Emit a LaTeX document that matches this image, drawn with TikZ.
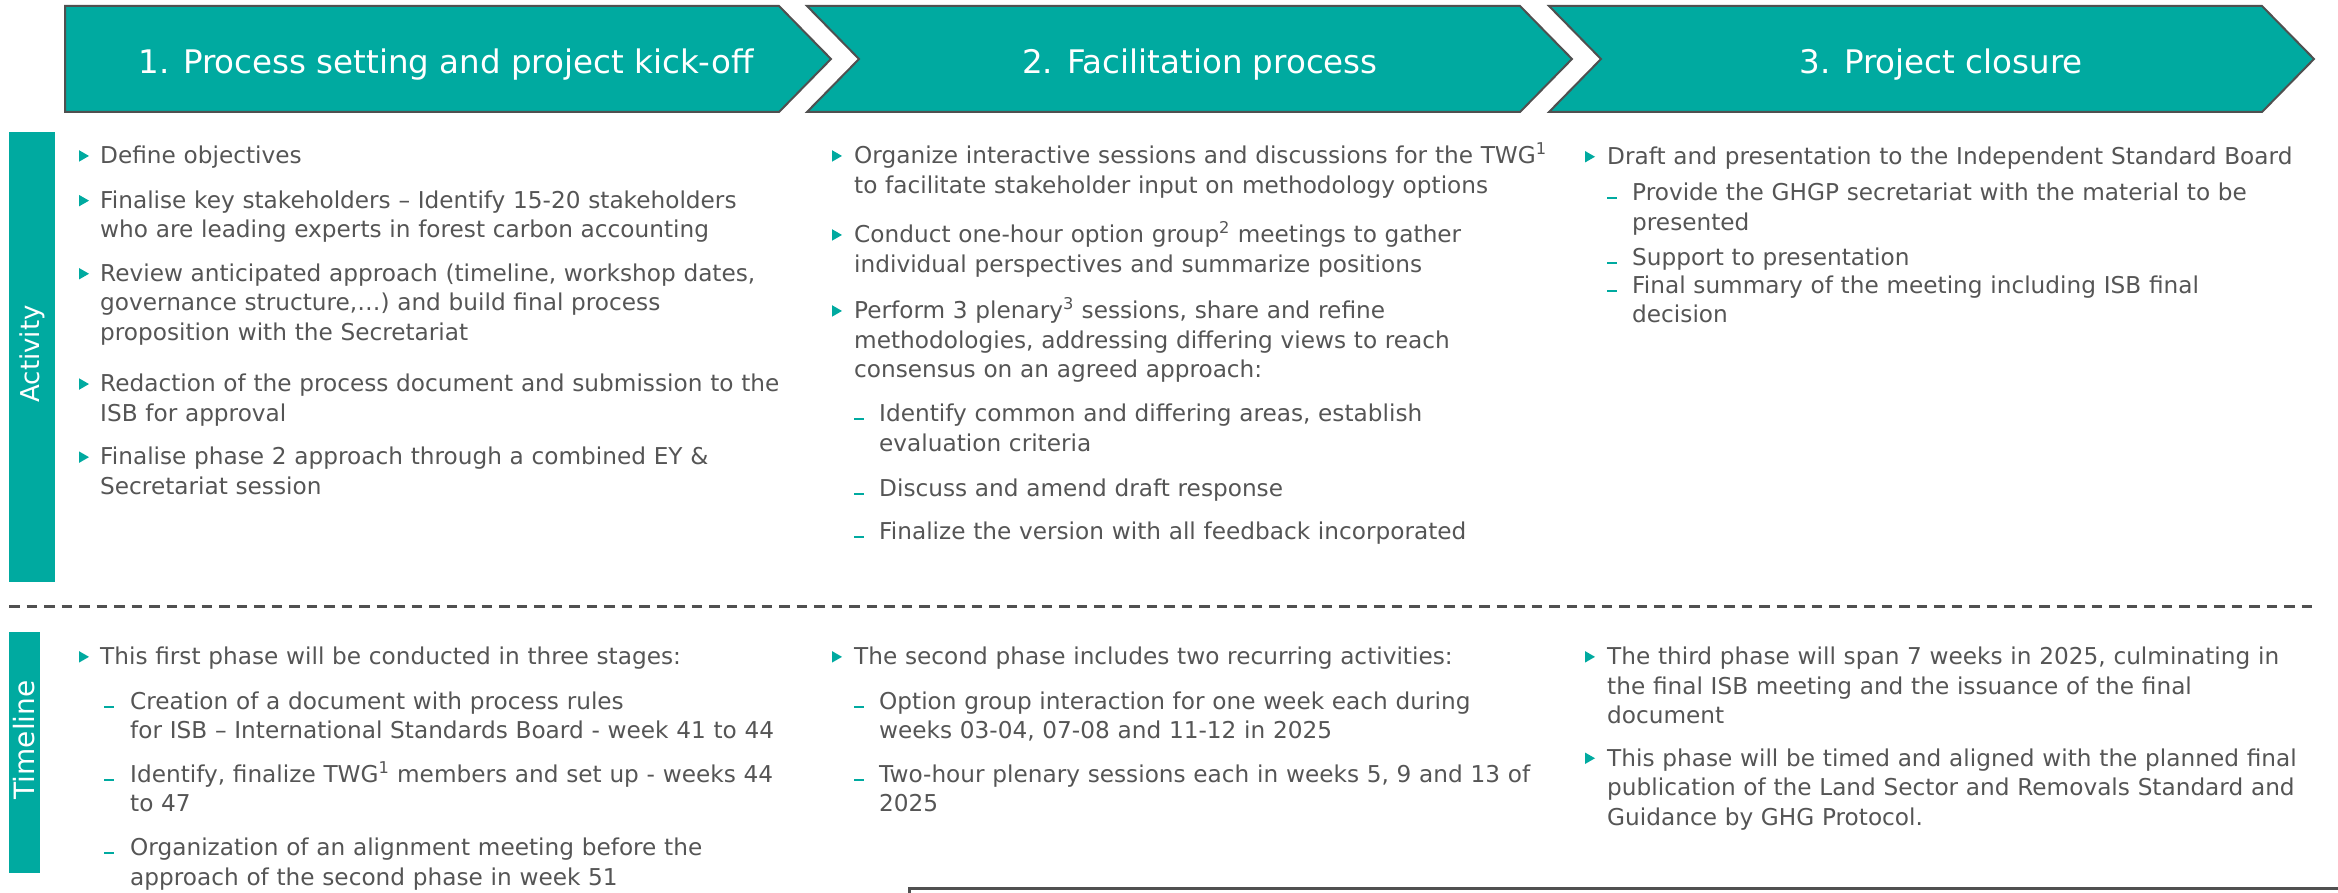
\documentclass[tikz,border=0pt]{standalone}
\usepackage{fontspec}
\setmainfont{DejaVu Sans}
\definecolor{teal1}{RGB}{0,170,160}
\definecolor{txtgray}{RGB}{85,85,85}
\definecolor{edgegray}{RGB}{80,80,80}
\newcommand\bul[2]{\fill[teal1] (#1,#2-13.5) -- (#1+10,#2-7.75) -- (#1,#2-2) -- cycle;}
\newcommand\sdash[2]{\draw[teal1,line width=2pt] (#1,#2-2.5) -- (#1+10,#2-2.5);}
\begin{document}
\begin{tikzpicture}[x=1pt,y=-1pt,
  chev/.style={fill=teal1,draw=edgegray,line width=2pt,line join=miter},
  head/.style={text=white,font=\fontsize{32.5}{39}\selectfont,anchor=base,inner sep=0pt},
  para/.style={text=txtgray,font=\fontsize{#1}{29.5}\selectfont,anchor=base west,inner sep=0pt,text width=900pt,align=left},
  para/.default=23.2,
  lab/.style={text=white,rotate=90,anchor=center,inner sep=0pt},
  dashline/.style={draw=edgegray,line width=2.5pt,dash pattern=on 10.5pt off 7pt},
  boxline/.style={draw=edgegray,line width=3pt}]
\useasboundingbox (0,0) rectangle (2338,893);
\clip (0,0) rectangle (2338,893);
% chevrons
\draw[chev] (65,6) -- (779,6) -- (831,59) -- (779,112) -- (65,112) -- cycle;
\draw[chev] (807,6) -- (1520,6) -- (1572,59) -- (1520,112) -- (807,112) -- (859,59) -- cycle;
\draw[chev] (1549,6) -- (2262,6) -- (2314,59) -- (2262,112) -- (1549,112) -- (1601,59) -- cycle;
\node[head] (h1) at (446,74) {1. Process setting and project kick-off};
\node[head] (h2) at (1200,74) {2. Facilitation process};
\node[head] (h3) at (1941,74) {3. Project closure};
% side labels
\fill[teal1] (9,132) rectangle (55,582);
\node[lab,font=\fontsize{26}{30}\selectfont] (act) at (32,354) {Activity};
\fill[teal1] (9,632) rectangle (40,873);
\node[lab,font=\fontsize{28}{32}\selectfont] (tim) at (24.5,740) {Timeline};
% dashed separator and bottom box
\draw[dashline] (9,606.7) -- (2316,606.7);
\draw[boxline] (909,888.5) rectangle (2400,960);
% ---------- Activity column 1
\bul{79}{163.7}\node[para] (a11) at (100,163.7) {Define objectives};
\bul{79}{208.4}\node[para] (a12) at (100,208.4) {Finalise key stakeholders – Identify 15-20 stakeholders\\who are leading experts in forest carbon accounting};
\bul{79}{281.5}\node[para] (a13) at (100,281.5) {Review anticipated approach (timeline, workshop dates,\\governance structure,…) and build final process\\proposition with the Secretariat};
\bul{79}{391.8}\node[para] (a14) at (100,391.8) {Redaction of the process document and submission to the\\ISB for approval};
\bul{79}{464.9}\node[para] (a15) at (100,464.9) {Finalise phase 2 approach through a combined EY \&\\Secretariat session};
% ---------- Activity column 2
\bul{832}{163.7}\node[para] (a21) at (854,163.7) {Organize interactive sessions and discussions for the TWG\textsuperscript{1}\\to facilitate stakeholder input on methodology options};
\bul{832}{242.7}\node[para] (a22) at (854,242.7) {Conduct one-hour option group\textsuperscript{2} meetings to gather\\individual perspectives and summarize positions};
\bul{832}{318.7}\node[para] (a23) at (854,318.7) {Perform 3 plenary\textsuperscript{3} sessions, share and refine\\methodologies, addressing differing views to reach\\consensus on an agreed approach:};
\sdash{854}{421.6}\node[para] (a24) at (879,421.6) {Identify common and differing areas, establish\\evaluation criteria};
\sdash{854}{496.2}\node[para] (a25) at (879,496.2) {Discuss and amend draft response};
\sdash{854}{539.4}\node[para] (a26) at (879,539.4) {Finalize the version with all feedback incorporated};
% ---------- Activity column 3
\bul{1585}{164.5}\node[para] (a31) at (1607,164.5) {Draft and presentation to the Independent Standard Board};
\sdash{1607}{200.9}\node[para] (a32) at (1632,200.9) {Provide the GHGP secretariat with the material to be\\presented};
\sdash{1607}{265.1}\node[para] (a33) at (1632,265.1) {Support to presentation};
\sdash{1607}{293.4}\node[para] (a34) at (1632,293.4) {Final summary of the meeting including ISB final\\decision};
% ---------- Timeline column 1
\bul{79}{664.6}\node[para] (t11) at (100,664.6) {This first phase will be conducted in three stages:};
\sdash{104}{709.4}\node[para] (t12) at (130,709.4) {Creation of a document with process rules\\for ISB – International Standards Board - week 41 to 44};
\sdash{104}{782.4}\node[para] (t13) at (130,782.4) {Identify, finalize TWG\textsuperscript{1} members and set up - weeks 44\\to 47};
\sdash{104}{855.5}\node[para] (t14) at (130,855.5) {Organization of an alignment meeting before the\\approach of the second phase in week 51};
% ---------- Timeline column 2
\bul{832}{664.6}\node[para] (t21) at (854,664.6) {The second phase includes two recurring activities:};
\sdash{854}{709.4}\node[para] (t22) at (879,709.4) {Option group interaction for one week each during\\weeks 03-04, 07-08 and 11-12 in 2025};
\sdash{854}{782.4}\node[para] (t23) at (879,782.4) {Two-hour plenary sessions each in weeks 5, 9 and 13 of\\2025};
% ---------- Timeline column 3
\bul{1585}{664.6}\node[para] (t31) at (1607,664.6) {The third phase will span 7 weeks in 2025, culminating in\\the final ISB meeting and the issuance of the final\\document};
\bul{1585}{766}\node[para] (t32) at (1607,766) {This phase will be timed and aligned with the planned final\\publication of the Land Sector and Removals Standard and\\Guidance by GHG Protocol.};
\end{tikzpicture}
\end{document}
